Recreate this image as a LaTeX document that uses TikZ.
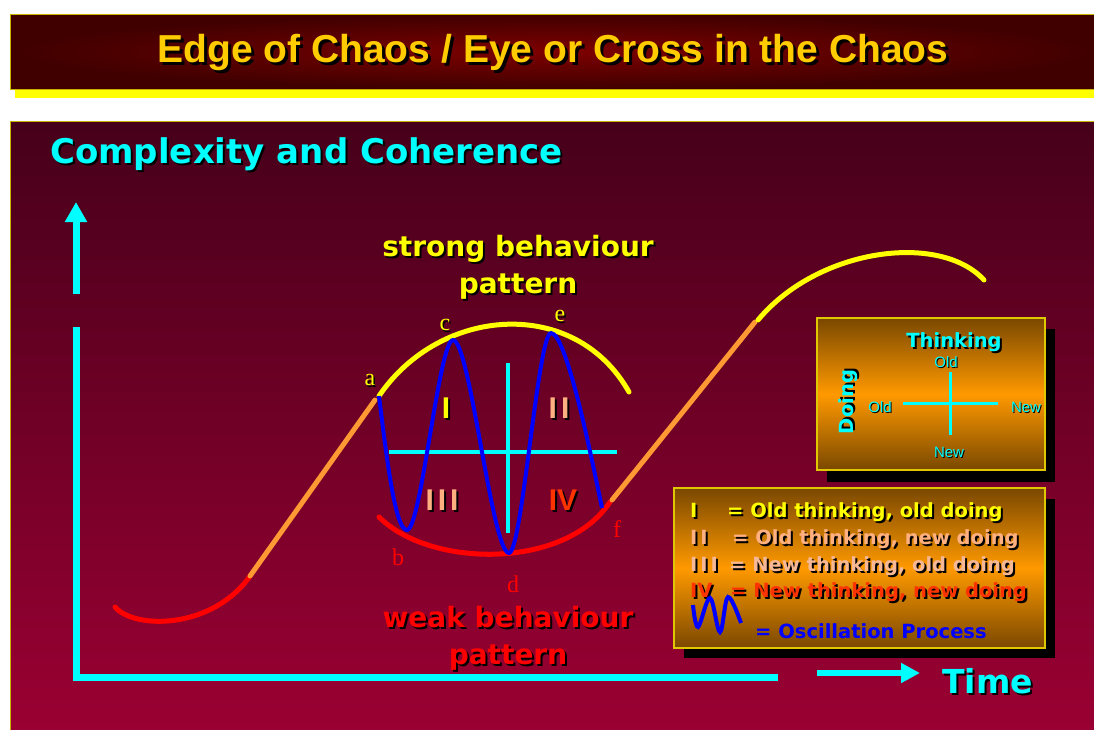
\documentclass[tikz,border=0pt]{standalone}
\usepackage{fontspec}
\setmainfont{Liberation Sans}
\newfontfamily\verdana{DejaVu Sans}
\newfontfamily\letterfont{Liberation Serif}
\usetikzlibrary{arrows.meta}
\definecolor{aqua}{HTML}{00FFFF}
\definecolor{sunyellow}{HTML}{FFFF00}
\definecolor{gold}{HTML}{FFCC00}
\definecolor{peach}{HTML}{FFB080}
\definecolor{peachlight}{HTML}{F6B895}
\definecolor{ember}{HTML}{FF3300}
\definecolor{hotred}{HTML}{FF0000}
\definecolor{amber}{HTML}{FF9933}
\definecolor{oscblue}{HTML}{0000FF}
\definecolor{paneltop}{HTML}{46001A}
\definecolor{panelbot}{HTML}{9C0033}
\definecolor{bannermid}{HTML}{7E0000}
\definecolor{bannerdark}{HTML}{400000}
\definecolor{bannerline}{HTML}{C8B400}
\definecolor{bannershadow}{HTML}{FFFF00}
\definecolor{boxdark}{HTML}{7A4800}
\definecolor{boxorange}{HTML}{FF9900}
\definecolor{boxline}{HTML}{E0C800}
\pgfdeclareverticalshading{boxglow}{100bp}{color(0bp)=(boxdark); color(25bp)=(boxdark); color(50bp)=(boxorange); color(75bp)=(boxdark); color(100bp)=(boxdark)}

% text with a black drop shadow
\newcommand\shadownode[4][]{%
  \node[#1,text=black,shadow shift] (#2-sh) at (#3) {#4};
  \node[#1] (#2) at (#3) {#4};}

\begin{document}
\begin{tikzpicture}[
  x=1pt,y=-1pt,
  every node/.style={inner sep=0pt},
  shadow shift/.style={xshift=2pt,yshift=-2pt},
  curve/.style={line width=5pt,line cap=round},
  axisline/.style={line width=7pt,draw=aqua},
  crossline/.style={line width=4pt,draw=aqua},
  titletext/.style={font=\bfseries\fontsize{39}{44}\selectfont,text=gold,anchor=base,
    shadow shift/.style={xshift=3pt,yshift=-3pt}},
  headtext/.style={font=\verdana\bfseries\fontsize{34}{40}\selectfont,text=aqua,anchor=base west},
  patterntext/.style={font=\verdana\bfseries\fontsize{28}{37}\selectfont,align=center},
  ptlabel/.style={font=\letterfont\fontsize{24}{28}\selectfont},
  quadrant/.style={font=\bfseries\fontsize{30}{34}\selectfont},
  boxhead/.style={font=\verdana\bfseries\fontsize{19.5}{22}\selectfont,text=aqua},
  smalltext/.style={font=\fontsize{15}{17}\selectfont,text=aqua,shadow shift/.style={xshift=1pt,yshift=-1pt}},
  legendtext/.style={font=\verdana\bfseries\fontsize{19.5}{22}\selectfont,anchor=base west},
  panelbox/.style={shading=boxglow,draw=boxline,line width=1.5pt}
]
\useasboundingbox (0,0) rectangle (1094,729);
\fill[white] (0,0) rectangle (1094,729);

% title banner
\fill[bannershadow] (15,22) rectangle (1100,98);
\shadedraw[inner color=bannermid,outer color=bannerdark,draw=bannerline,line width=1pt] (10,14) rectangle (1100,89);
\shadownode[titletext]{title}{553,62}{Edge of Chaos / Eye or Cross in the Chaos}

% main panel
\shadedraw[top color=paneltop,bottom color=panelbot,draw=bannerline,line width=1pt] (10,121) rectangle (1100,740);
\shadownode[headtext]{complexity}{50,163}{Complexity and Coherence}

% axes
\coordinate (yarrow-s) at (76,294);
\coordinate (yarrow-e) at (76,202);
\coordinate (origin) at (76,677);
\coordinate (ytop) at (76,327);
\coordinate (xend) at (778,677);
\coordinate (xarrow-s) at (817,673);
\coordinate (xarrow-e) at (920,673);
\draw[axisline,-{Triangle[length=20pt,width=21pt]}] (yarrow-s) -- (yarrow-e);
\draw[axisline] (ytop) -- (origin) -- (xend);
\draw[line width=6pt,draw=aqua,-{Triangle[length=19pt,width=19pt]}] (xarrow-s) -- (xarrow-e);
\shadownode[headtext,font=\verdana\bfseries\fontsize{33}{38}\selectfont]{time}{942,693}{Time}

% points on the curve
\coordinate (start) at (115,607);
\coordinate (low1) at (250,576);
\coordinate (a) at (379,396);
\coordinate (arc1end) at (629,392);
\coordinate (b) at (407,530);
\coordinate (c) at (453,340);
\coordinate (d) at (509,553);
\coordinate (e) at (551,333);
\coordinate (f) at (602,508);
\coordinate (arc2start) at (379,517);
\coordinate (arc2end) at (610,502);
\coordinate (high2) at (758,320);
\coordinate (arc3end) at (984,280);

% growth curve
\draw[curve,hotred] (start) .. controls (135,630) and (213,629) .. (low1);
\draw[curve,amber] (low1) -- (375,400);
\draw[curve,sunyellow] (a) .. controls (440,306) and (575,296) .. (arc1end);
\draw[curve,hotred] (arc2start) .. controls (430,568) and (565,570) .. (arc2end);
\draw[curve,amber] (612,500) -- (755,322);
\draw[curve,sunyellow] (high2) .. controls (818,248) and (940,232) .. (arc3end);

% cross in the chaos
\draw[crossline] (389,452) -- (617,452);
\draw[crossline] (508,363) -- (508,533);

% oscillation
\draw[line width=4pt,oscblue] (a) .. controls (388,470) and (396,530) .. (b)
  .. controls (421,530) and (439,340) .. (c)
  .. controls (470,340) and (492,553) .. (d)
  .. controls (522,553) and (538,333) .. (e)
  .. controls (566,333) and (590,450) .. (f);

% point labels
\shadownode[ptlabel,text=sunyellow,shadow shift/.style={xshift=1.5pt,yshift=-1.5pt}]{lbl-a}{370,380}{a}
\shadownode[ptlabel,text=sunyellow,shadow shift/.style={xshift=1.5pt,yshift=-1.5pt}]{lbl-c}{445,325}{c}
\shadownode[ptlabel,text=sunyellow,shadow shift/.style={xshift=1.5pt,yshift=-1.5pt}]{lbl-e}{560,316}{e}
\node[ptlabel,text=hotred] (lbl-b) at (398,557) {b};
\node[ptlabel,text=hotred] (lbl-d) at (513,584) {d};
\node[ptlabel,text=hotred] (lbl-f) at (617,529) {f};

% quadrant numbers
\shadownode[quadrant,text=sunyellow]{q1}{446,408}{I}
\shadownode[quadrant,text=peach]{q2}{559,408}{I\hspace{4pt}I}
\shadownode[quadrant,text=peach]{q3}{442,500}{I\hspace{4pt}I\hspace{4pt}I}
\shadownode[quadrant,text=ember]{q4}{563,500}{IV}

% behaviour patterns
\shadownode[patterntext,text=sunyellow]{strong}{518,267}{strong behaviour\\pattern}
\shadownode[patterntext,text=hotred]{weak}{508,638}{weak behaviour\\pattern}

% thinking / doing box
\fill[black] (827,329) rectangle (1055,482);
\shadedraw[panelbox] (817,318) rectangle (1045,470);
\shadownode[boxhead,anchor=base]{thinking}{954,347}{Thinking}
\shadownode[boxhead,rotate=90]{doing}{848,402}{Doing}
\draw[line width=3pt,draw=aqua] (903,403) -- (998,403);
\draw[line width=3pt,draw=aqua] (950,372) -- (950,435);
\shadownode[smalltext]{think-old}{946,362}{Old}
\shadownode[smalltext]{do-old}{880,407}{Old}
\shadownode[smalltext]{do-new}{1026,407}{New}
\shadownode[smalltext]{think-new}{949,452}{New}

% legend box
\fill[black] (684,499) rectangle (1055,658);
\shadedraw[panelbox] (674,488) rectangle (1045,648);
\shadownode[legendtext,text=sunyellow]{key1}{690,517}{I}
\shadownode[legendtext,text=sunyellow]{key1-txt}{727,517}{= Old thinking, old doing}
\shadownode[legendtext,text=peach]{key2}{690,544}{I\hspace{3pt}I}
\shadownode[legendtext,text=peach]{key2-txt}{732,544}{= Old thinking, new doing}
\shadownode[legendtext,text=peachlight]{key3}{690,571}{I\hspace{3pt}I\hspace{3pt}I}
\shadownode[legendtext,text=peachlight]{key3-txt}{729,571}{= New thinking, old doing}
\shadownode[legendtext,text=ember]{key4}{690,597}{IV}
\shadownode[legendtext,text=ember]{key4-txt}{730,597}{= New thinking, new doing}
\draw[line width=4pt,oscblue] plot[smooth,tension=0.6] coordinates {(693,605) (698,627) (710,598) (720,632) (728,597) (741,623)};
\node[legendtext,text=oscblue] (key5-txt) at (755,638) {= Oscillation Process};
\end{tikzpicture}
\end{document}
